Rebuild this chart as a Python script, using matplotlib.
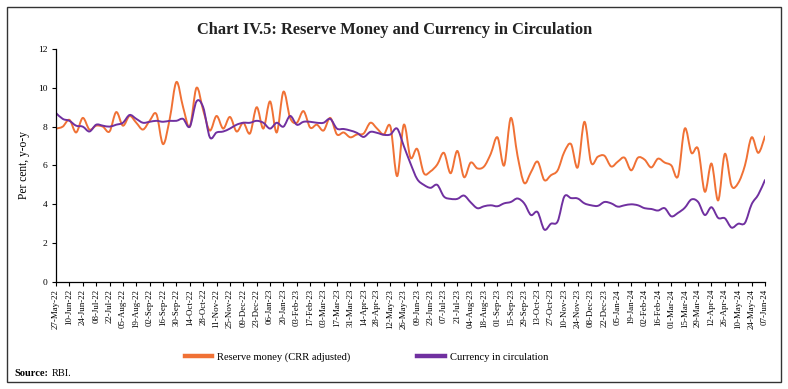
import numpy as np
import matplotlib
matplotlib.use("Agg")
import matplotlib.pyplot as plt
import pandas as pd
from matplotlib.path import Path
from matplotlib.patches import PathPatch, Rectangle
from matplotlib.lines import Line2D

plt.rcParams['font.family'] = ['Liberation Serif', 'DejaVu Serif']

# weekly dates, 27-May-22 to 07-Jun-24
dates = pd.date_range('2022-05-27', '2024-06-07', freq='7D')
tick_labels = [d.strftime('%d-%b-%y') for d in dates]

# y-o-y growth, per cent
reserve_money = [
    7.9, 8.0, 8.35, 7.7, 8.45, 7.85, 8.05, 8.0, 7.75, 8.75,
    8.05, 8.55, 8.2, 7.85, 8.3, 8.65, 7.1, 8.4, 10.3, 9.0,
    8.0, 10.0, 8.85, 7.8, 8.55, 7.9, 8.5, 7.75, 8.2, 7.65,
    9.0, 7.9, 9.3, 7.7, 9.8, 8.45, 8.2, 8.8, 7.95, 8.1,
    7.8, 8.45, 7.6, 7.7, 7.45, 7.6, 7.65, 8.2, 7.9, 7.6,
    8.0, 5.45, 8.1, 6.4, 6.85, 5.6, 5.7, 6.05, 6.65, 5.6,
    6.75, 5.4, 6.15, 5.85, 5.95, 6.6, 7.45, 6.0, 8.45, 6.5,
    5.1, 5.65, 6.2, 5.25, 5.5, 5.75, 6.7, 7.1, 5.9, 8.25,
    6.15, 6.45, 6.5, 5.95, 6.2, 6.4, 5.75, 6.4, 6.3, 5.9,
    6.35, 6.15, 6.0, 5.45, 7.9, 6.65, 6.85, 4.65, 6.1, 4.2,
    6.6, 4.95, 5.1, 6.0, 7.45, 6.65, 7.5,
]
currency = [
    8.7, 8.4, 8.3, 8.05, 8.0, 7.75, 8.1, 8.05, 8.0, 8.1,
    8.2, 8.6, 8.4, 8.2, 8.25, 8.3, 8.25, 8.3, 8.3, 8.4,
    8.0, 9.3, 9.0, 7.45, 7.7, 7.75, 7.9, 8.1, 8.2, 8.2,
    8.3, 8.2, 7.9, 8.2, 8.0, 8.55, 8.1, 8.25, 8.25, 8.2,
    8.2, 8.4, 7.9, 7.88, 7.8, 7.68, 7.47, 7.73, 7.68, 7.58,
    7.6, 7.9, 7.0, 6.1, 5.3, 5.0, 4.85, 5.0, 4.4, 4.28,
    4.28, 4.45, 4.1, 3.8, 3.9, 3.95, 3.9, 4.05, 4.12, 4.3,
    4.05, 3.45, 3.6, 2.7, 3.0, 3.12, 4.4, 4.32, 4.3, 4.05,
    3.95, 3.92, 4.12, 4.05, 3.88, 3.95, 4.0, 3.95, 3.8, 3.76,
    3.68, 3.8, 3.38, 3.56, 3.82, 4.25, 4.12, 3.45, 3.85, 3.3,
    3.28, 2.8, 3.0, 3.04, 4.0, 4.5, 5.25,
]
series_names = ['Reserve money (CRR adjusted)', 'Currency in circulation']
series_colors = ['#F07135', '#7030A0']


def smooth_path(x, y):
    # Excel-style smoothed line: Catmull-Rom segments as cubic Bezier
    p = np.column_stack([x, y]).astype(float)
    pp = np.vstack([p[0], p, p[-1]])
    verts = [p[0]]
    codes = [Path.MOVETO]
    for i in range(len(p) - 1):
        p0, p1, p2, p3 = pp[i], pp[i + 1], pp[i + 2], pp[i + 3]
        c1 = p1 + (p2 - p0) / 6.0
        c2 = p2 - (p3 - p1) / 6.0
        verts += [c1, c2, p2]
        codes += [Path.CURVE4] * 3
    return Path(verts, codes)


fig = plt.figure(figsize=(7.88, 3.89), dpi=100)
ax = fig.add_axes([0.0711, 0.2751, 0.8997, 0.599])

xs = np.arange(len(dates))
handles = []
for vals, name, col in zip([reserve_money, currency], series_names, series_colors):
    ax.add_patch(PathPatch(smooth_path(xs, vals), fill=False, edgecolor=col,
                           lw=1.4, capstyle='round', joinstyle='round'))
    handles.append(Line2D([], [], color=col, lw=3.2, label=name))

ax.set_xlim(0, len(dates) - 1)
ax.set_ylim(0, 12)
ax.set_yticks(range(0, 13, 2))
ax.set_xticks(xs[::2])
ax.set_xticklabels(tick_labels[::2], rotation=90, fontsize=6.4)
ax.tick_params(axis='y', labelsize=6.8, length=3, width=0.8, pad=3)
ax.tick_params(axis='x', length=3, width=0.8, pad=2)
for s in ['top', 'right']:
    ax.spines[s].set_visible(False)
for s in ['left', 'bottom']:
    ax.spines[s].set_linewidth(0.9)
ax.set_ylabel('Per cent, y-o-y', fontsize=8.3, labelpad=6)

fig.text(0.501, 0.923, 'Chart IV.5: Reserve Money and Currency in Circulation',
         ha='center', va='center', fontsize=11.8, fontweight='bold', color='#222222')

fig.legend(handles=handles, loc='center', bbox_to_anchor=(0.465, 0.082), ncol=2,
           frameon=False, fontsize=7.6, handlelength=2.6, handletextpad=0.5,
           columnspacing=6.3)

fig.text(0.018, 0.041, 'Source:', fontsize=7.5, fontweight='bold', va='center')
fig.text(0.066, 0.041, 'RBI.', fontsize=7.5, va='center')

fig.add_artist(Rectangle((0.009, 0.018), 0.982, 0.964, transform=fig.transFigure,
                         fill=False, edgecolor='#333333', lw=1.0))

fig.savefig('out.png', dpi=100)
